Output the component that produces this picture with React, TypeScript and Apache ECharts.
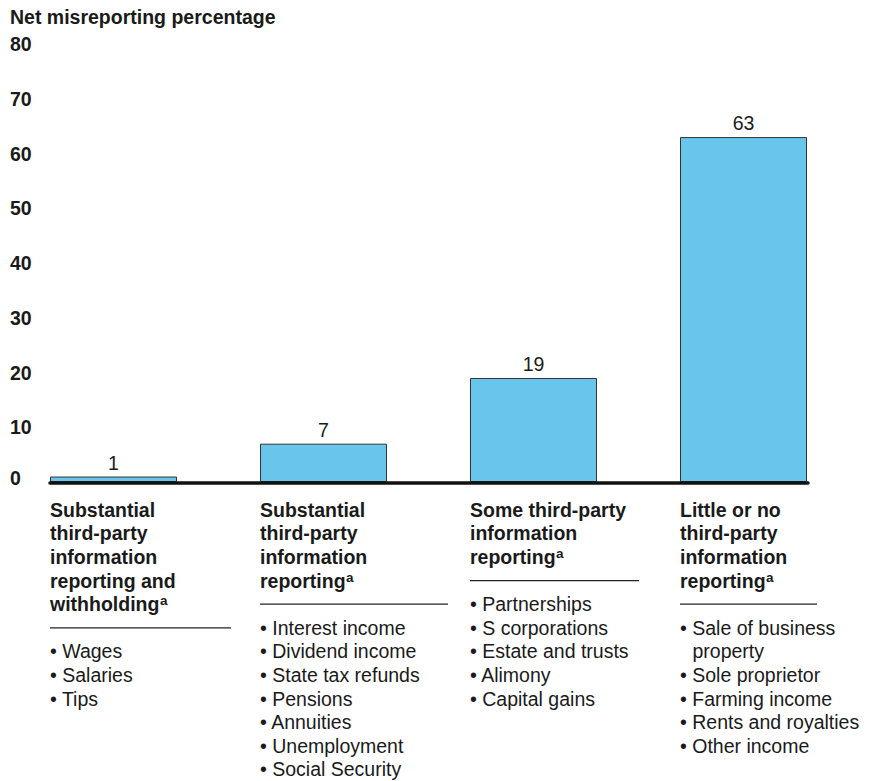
import React, { useEffect, useRef } from "react";
import * as echarts from "echarts";

const yTitle = "Net misreporting percentage";
const categoryTitles: string[][] = [
  ["Substantial", "third-party", "information", "reporting and", "withholding"],
  ["Substantial", "third-party", "information", "reporting"],
  ["Some third-party", "information", "reporting"],
  ["Little or no", "third-party", "information", "reporting"],
];
const footnoteMark = "a";
const categoryItems: string[][] = [
  ["Wages", "Salaries", "Tips"],
  ["Interest income", "Dividend income", "State tax refunds", "Pensions", "Annuities", "Unemployment", "Social Security"],
  ["Partnerships", "S corporations", "Estate and trusts", "Alimony", "Capital gains"],
  ["Sale of business\nproperty", "Sole proprietor", "Farming income", "Rents and royalties", "Other income"],
];
const values = [1, 7, 19, 63];
const yMin = 0;
const yMax = 80;
const yInterval = 10;

// style constants
const FONT = "'Liberation Sans', Arial, Helvetica, sans-serif";
const TXT = "#1a1a1a";
const FS = 19.5;
const LH = 23.6;
const ruleWidths = [181, 188, 169, 137];

function buildLabel(i: number): string {
  const t = categoryTitles[i];
  const title = t
    .map((line, j) => (j === t.length - 1 ? `{t|${line}}{sup|${footnoteMark}}` : `{t|${line}}`))
    .join("\n");
  const items = categoryItems[i]
    .map((it) => {
      const parts = it.split("\n");
      return parts.map((p, k) => (k === 0 ? `{b|\u2022 ${p}}` : `{c|${p}}`)).join("\n");
    })
    .join("\n");
  return `${title}\n{rule${i}| }\n${items}`;
}

export default function App() {
  const ref = useRef<HTMLDivElement>(null);
  useEffect(() => {
    if (!ref.current) return;
    const chart = echarts.init(ref.current, undefined, { renderer: "svg" });
    const rich: any = {
      t: { fontFamily: FONT, fontSize: FS, fontWeight: "bold", lineHeight: LH, color: TXT, align: "left" },
      sup: { fontFamily: FONT, fontSize: 13.5, fontWeight: "bold", lineHeight: 13, padding: [0, 0, 7, 0.5], color: TXT, align: "left" },
      b: { fontFamily: FONT, fontSize: FS, lineHeight: LH, color: TXT, align: "left" },
      c: { fontFamily: FONT, fontSize: FS, lineHeight: LH, color: TXT, align: "left", padding: [0, 0, 0, 12.5] },
    };
    ruleWidths.forEach((w, i) => {
      rich["rule" + i] = {
        fontFamily: FONT,
        fontSize: 2,
        width: w,
        height: 1.2,
        lineHeight: LH,
        backgroundColor: "#222",
        align: "left",
      };
    });
    const option: any = {
      animation: false,
      title: {
        text: yTitle,
        left: 10,
        top: 7,
        padding: 0,
        textStyle: { fontFamily: FONT, fontSize: FS, fontWeight: "bold", color: TXT },
      },
      grid: [
        { left: 8.5, right: 21.5, top: 44, bottom: 299, containLabel: false },
        { left: 50, right: 62, top: 44, bottom: 298.5, containLabel: false },
      ],
      xAxis: [
        {
          type: "category",
          gridIndex: 0,
          data: categoryTitles.map((t) => t.join(" ")),
          axisLine: { show: false },
          axisTick: { show: false },
          axisLabel: {
            interval: 0,
            margin: 16,
            width: 127,
            overflow: "none",
            align: "center",
            fontFamily: FONT,
            fontSize: FS,
            color: TXT,
            formatter: (_v: string, idx: number) => buildLabel(idx),
            rich,
          },
        },
        {
          type: "value",
          gridIndex: 1,
          min: 0,
          max: 1,
          z: 5,
          axisLine: { show: true, lineStyle: { color: "#111", width: 3.5 } },
          axisTick: { show: false },
          axisLabel: { show: false },
          splitLine: { show: false },
        },
      ],
      yAxis: [
        {
          type: "value",
          gridIndex: 0,
          min: yMin,
          max: yMax,
          interval: yInterval,
          axisLine: { show: false },
          axisTick: { show: false },
          splitLine: { show: false },
          axisLabel: {
            align: "left",
            margin: -1.5,
            fontFamily: FONT,
            fontSize: FS,
            fontWeight: "bold",
            color: TXT,
            formatter: (v: number) => (v === 0 ? `{z|${v}}` : `{n|${v}}`),
            rich: {
              n: { fontFamily: FONT, fontSize: FS, fontWeight: "bold", color: TXT },
              z: { fontFamily: FONT, fontSize: FS, fontWeight: "bold", color: TXT, padding: [0, 0, 8, 0] },
            },
          },
        },
        { type: "value", gridIndex: 1, min: 0, max: 1, show: false },
      ],
      series: [
        {
          type: "bar",
          xAxisIndex: 0,
          yAxisIndex: 0,
          data: values,
          barWidth: 127,
          itemStyle: { color: "#68c6ec", borderColor: "#333", borderWidth: 1 },
          label: {
            show: true,
            position: "top",
            distance: 4,
            fontFamily: FONT,
            fontSize: FS,
            color: TXT,
          },
        },
      ],
    };
    chart.setOption(option);
    return () => chart.dispose();
  }, []);
  return <div ref={ref} style={{ position: "absolute", left: 0, top: 0, width: 870, height: 781 }} />;
}
